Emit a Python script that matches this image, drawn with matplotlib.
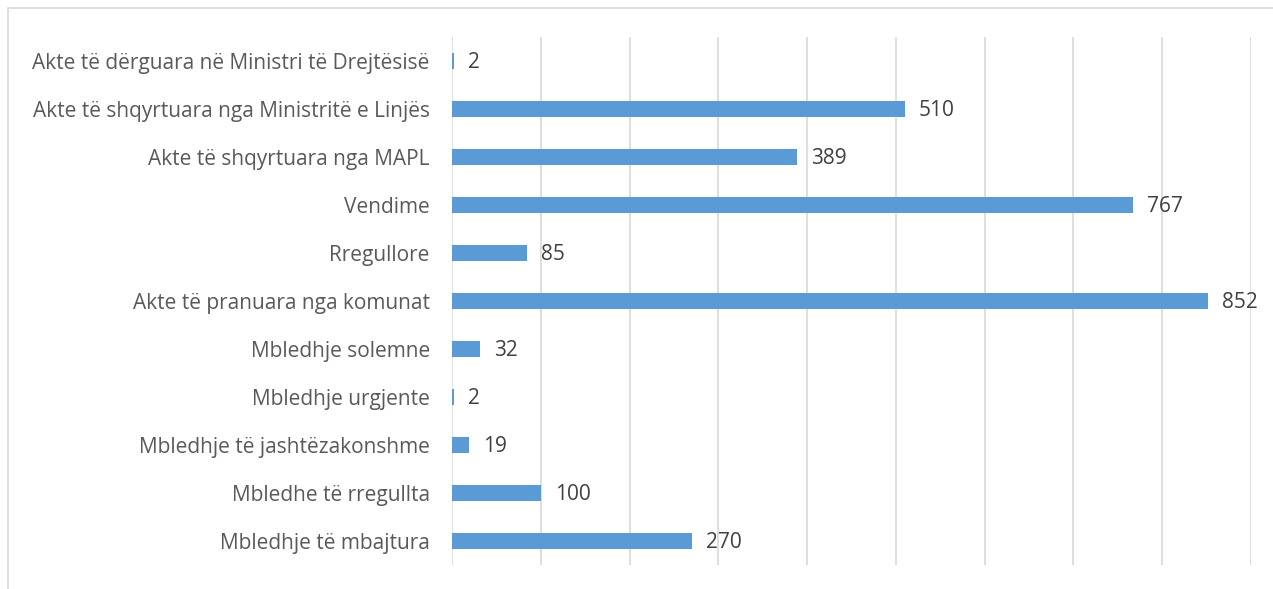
import matplotlib
matplotlib.use("Agg")
import matplotlib.pyplot as plt
from matplotlib.patches import Rectangle

categories = [
    "Mbledhje të mbajtura",
    "Mbledhe të rregullta",
    "Mbledhje të jashtëzakonshme",
    "Mbledhje urgjente",
    "Mbledhje solemne",
    "Akte të pranuara nga komunat",
    "Rregullore",
    "Vendime",
    "Akte të shqyrtuara nga MAPL",
    "Akte të shqyrtuara nga Ministritë e Linjës",
    "Akte të dërguara në Ministri të Drejtësisë",
]
values = [270, 100, 19, 2, 32, 852, 85, 767, 389, 510, 2]
x_ticks = [0, 100, 200, 300, 400, 500, 600, 700, 800, 900]

plt.rcParams['font.family'] = ['Open Sans', 'DejaVu Sans']

W, H = 1273, 589
fig = plt.figure(figsize=(W / 100, H / 100), dpi=100)
fig.patches.append(Rectangle((8 / W, -0.1), 1.2, 1 - 8 / H + 0.1, transform=fig.transFigure,
                             fill=False, edgecolor='#D9D9D9', linewidth=1.2))

ax = fig.add_axes([452 / W, 1 - 565 / H, (1251 - 452) / W, (565 - 37) / H])
ypos = list(range(len(categories)))
ax.barh(ypos, values, height=0.34, color='#5B9BD5', zorder=3)
ax.set_xlim(0, 900)
ax.set_ylim(-0.5, len(categories) - 0.5)
ax.set_xticks(x_ticks)
ax.set_xticklabels([])
ax.tick_params(axis='x', length=0)
ax.tick_params(axis='y', length=0, pad=16, labelsize=15, labelcolor='#595959')
ax.set_yticks(ypos)
ax.set_yticklabels(categories)
ax.grid(axis='x', color='#D9D9D9', linewidth=1.2, zorder=0)
for s in ax.spines.values():
    s.set_visible(False)
for y, v in zip(ypos, values):
    ax.annotate(str(v), (v, y), xytext=(14, -2), textcoords='offset pixels',
                va='center', ha='left', fontsize=15, color='#404040')

fig.savefig("out.png", dpi=100)
